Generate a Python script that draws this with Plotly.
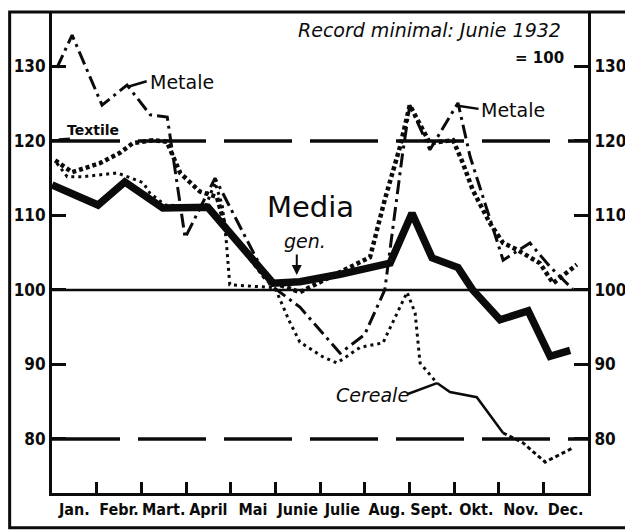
import plotly.graph_objects as go

# ---- data (index values, Record minimal June 1932 = 100) ----
months = ["Jan.", "Febr.", "Mart.", "April", "Mai", "Junie", "Julie", "Aug.", "Sept.", "Okt.", "Nov.", "Dec."]
y_ticks = [80, 90, 100, 110, 120, 130]
ref_dashed = [120, 80]
base_line = [100]

medie_x = [0, 1.03, 1.63, 2.48, 3.49, 4.95, 5.55, 6.45, 7.57, 8.06, 8.51, 9.09, 9.42, 10.03, 10.66, 11.15, 11.6]
medie_y = [114.1, 111.4, 114.5, 111.0, 111.1, 100.9, 101.1, 102.1, 103.6, 110.3, 104.3, 103.0, 100.0, 96.0, 97.2, 91.1, 91.9]

metale_x = [0.11, 0.45, 1.12, 1.68, 2.2, 2.58, 2.98, 3.65, 4.88, 5.55, 6.45, 7.0, 7.45, 7.84, 8.01, 8.46, 9.09, 9.36, 10.1, 10.7, 11.15, 11.66]
metale_y = [129.8, 134.2, 124.8, 127.5, 123.5, 123.2, 107.0, 115.0, 100.7, 97.7, 91.5, 94.0, 100.0, 117.9, 124.8, 118.8, 125.1, 117.9, 104.0, 106.3, 103.1, 100.1]

textile_x = [0.07, 0.45, 1.07, 1.52, 1.81, 2.26, 2.57, 2.87, 3.31, 3.69, 3.87, 4.81, 5.55, 6.45, 7.12, 7.45, 7.79, 8.01, 8.46, 8.98, 9.2, 9.42, 9.8, 10.1, 10.41, 10.92, 11.22, 11.75]
textile_y = [117.4, 115.8, 117.0, 118.4, 119.7, 120.1, 119.9, 115.7, 113.2, 112.5, 108.7, 101.3, 99.7, 102.4, 104.4, 112.1, 119.2, 124.8, 119.7, 120.1, 117.0, 113.4, 109.0, 106.3, 105.4, 103.6, 100.9, 103.4]

cereale_x = [0.11, 0.34, 0.69, 1.46, 2.04, 2.19, 2.53, 3.43, 3.65, 3.81, 3.9, 3.98, 4.99, 5.33, 5.55, 6.07, 6.38, 6.9, 7.41, 7.95, 8.13, 8.24, 8.62, 8.91, 9.51, 10.1, 10.54, 11.04, 11.66]
cereale_y = [117.0, 115.2, 115.2, 115.7, 114.4, 113.0, 111.4, 111.1, 114.4, 111.4, 106.7, 100.7, 100.3, 95.6, 93.0, 91.0, 90.2, 92.3, 92.9, 99.7, 96.9, 90.2, 87.5, 86.3, 85.6, 80.8, 79.5, 76.9, 78.8]
cereale_solid_from, cereale_solid_to = 22, 25

INK = "#0b0b0b"
FONT = "DejaVu Sans Condensed"

fig = go.Figure()

# reference lines
for v in ref_dashed:
    fig.add_trace(go.Scatter(x=[0, 12], y=[v, v], mode="lines",
                             line=dict(color=INK, width=3.5, dash="68px,18px"),
                             hoverinfo="skip", showlegend=False))
for v in base_line:
    fig.add_trace(go.Scatter(x=[0, 12], y=[v, v], mode="lines",
                             line=dict(color=INK, width=2.5),
                             hoverinfo="skip", showlegend=False))

# Cereale
fig.add_trace(go.Scatter(x=cereale_x[:cereale_solid_from + 1], y=cereale_y[:cereale_solid_from + 1],
                         mode="lines", name="Cereale",
                         line=dict(color=INK, width=3, dash="3px,4px"), showlegend=False))
fig.add_trace(go.Scatter(x=cereale_x[cereale_solid_from:cereale_solid_to + 1], y=cereale_y[cereale_solid_from:cereale_solid_to + 1],
                         mode="lines", name="Cereale",
                         line=dict(color=INK, width=2.5), showlegend=False))
fig.add_trace(go.Scatter(x=cereale_x[cereale_solid_to:], y=cereale_y[cereale_solid_to:],
                         mode="lines", name="Cereale",
                         line=dict(color=INK, width=3, dash="4px,3px"), showlegend=False))

# Textile
fig.add_trace(go.Scatter(x=textile_x, y=textile_y, mode="lines", name="Textile",
                         line=dict(color=INK, width=4.5, dash="4px,3px"), showlegend=False))

# Metale
fig.add_trace(go.Scatter(x=metale_x, y=metale_y, mode="lines", name="Metale",
                         line=dict(color=INK, width=3, dash="14px,5px,3px,5px"), showlegend=False))

# Media generala
fig.add_trace(go.Scatter(x=medie_x, y=medie_y, mode="lines", name="Media gen.",
                         line=dict(color=INK, width=7.5), showlegend=False))

# invisible trace for right axis
fig.add_trace(go.Scatter(x=medie_x, y=medie_y, yaxis="y2", mode="lines",
                         line=dict(width=0), opacity=0, hoverinfo="skip", showlegend=False))

yr = [72.75, 137.3]
axis_font = dict(family=FONT, size=17, color=INK, weight="bold")

fig.update_layout(
    width=633, height=532,
    margin=dict(l=44, r=53, t=4, b=47),
    paper_bgcolor="white", plot_bgcolor="white",
    xaxis=dict(range=[0, 12], showgrid=False, zeroline=False,
               tickvals=[i + 0.5 for i in range(12)], ticktext=months,
               ticks="", tickfont=dict(family=FONT, size=16, color=INK, weight="bold"),
               showline=True, linecolor=INK, linewidth=3,
               minor=dict(tickvals=list(range(1, 12)), ticks="inside", ticklen=11,
                          tickwidth=3, tickcolor=INK, showgrid=False)),
    yaxis=dict(range=yr, showgrid=False, zeroline=False,
               tickvals=y_ticks, ticks="inside", ticklen=14, tickwidth=3, tickcolor=INK,
               tickfont=axis_font, showline=True, linecolor=INK, linewidth=3),
    yaxis2=dict(range=yr, overlaying="y", side="right", showgrid=False, zeroline=False,
                tickvals=y_ticks, ticks="inside", ticklen=14, tickwidth=3, tickcolor=INK,
                tickfont=axis_font, showline=True, linecolor=INK, linewidth=3),
)

# outer frame
fig.add_shape(type="rect", xref="paper", yref="paper", x0=-0.079, x1=1.074, y0=-0.072, y1=1.0,
              line=dict(color=INK, width=3))

hand = dict(family="DejaVu Sans", color=INK)
ann = [
    ("Record minimal: Junie 1932", 8.45, 134.9, 19, "italic", "normal"),
    ("= 100", 10.92, 131.1, 15, "normal", "bold"),
    ("Metale", 2.9, 127.9, 19, "normal", "normal"),
    ("Metale", 10.33, 124.2, 19, "normal", "normal"),
    ("Textile", 0.92, 121.5, 14, "normal", "bold"),
    ("Media", 5.78, 111.1, 29, "normal", "normal"),
    ("gen.", 5.66, 106.6, 19, "italic", "normal"),
    ("Cereale", 7.18, 85.9, 19, "italic", "normal"),
]
for t, x, y, s, st, w in ann:
    fig.add_annotation(x=x, y=y, text=t, showarrow=False,
                       font=dict(size=s, style=st, weight=w, **hand))

# pointer strokes
fig.add_annotation(x=5.48, y=102.0, ax=0, ay=-22, text="", showarrow=True,
                   arrowhead=2, arrowwidth=2, arrowcolor=INK)
for x0, y0, x1, y1 in [(7.95, 86.0, 8.62, 87.5), (1.72, 127.3, 2.12, 128.0),
                       (9.12, 124.7, 9.55, 124.3), (0.15, 120.2, 0.4, 120.3)]:
    fig.add_shape(type="line", x0=x0, y0=y0, x1=x1, y1=y1, line=dict(color=INK, width=2.5))

fig.write_html("out.html")
